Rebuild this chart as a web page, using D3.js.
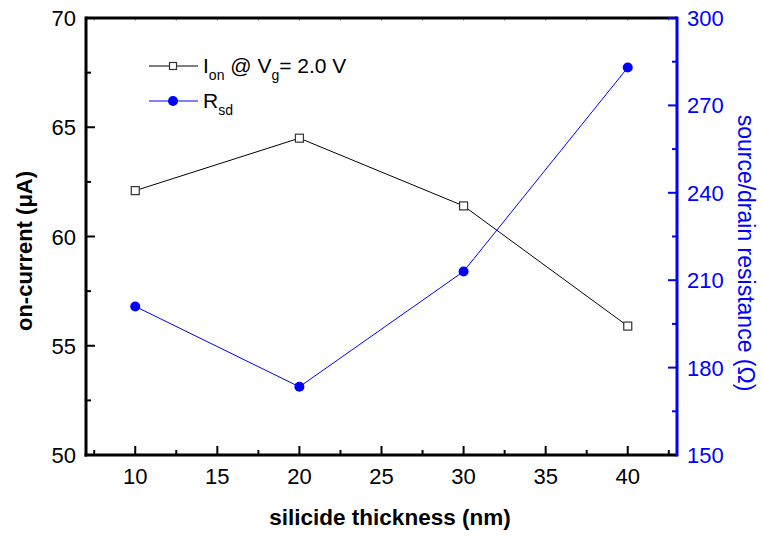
<!DOCTYPE html>
<html>
<head>
<meta charset="utf-8">
<script src="https://cdn.jsdelivr.net/npm/d3@7"></script>
<style>
  html, body { margin: 0; padding: 0; background: #fff; }
  svg text { font-family: "Liberation Sans", Arial, Helvetica, sans-serif; }
</style>
</head>
<body>
<svg id="chart" width="763" height="536"></svg>
<script>
// Silicide thickness (nm) and the two measured quantities
const thickness = [10, 20, 30, 40];
const onCurrent = [62.1, 64.5, 61.4, 55.9];      // µA, left axis
const resistance = [201, 173.4, 213, 283];       // Ω, right axis

const xTicks = [10, 15, 20, 25, 30, 35, 40];
const yLeftTicks = [50, 55, 60, 65, 70];
const yRightTicks = [150, 180, 210, 240, 270, 300];

const BLUE = "#0000ff";
const svg = d3.select("#chart");

const L = 86, R = 677, T = 18, B = 455;

const x = d3.scaleLinear().domain([7, 43]).range([L, R]);
const yL = d3.scaleLinear().domain([50, 70]).range([B, T]);
const yR = d3.scaleLinear().domain([150, 300]).range([B, T]);

const fs = 22;

// Frame: top edge
svg.append("line").attr("x1", L).attr("x2", R).attr("y1", T).attr("y2", T)
  .attr("stroke", "#000").attr("stroke-width", 3);

// Minor and major ticks, all pointing into the plot
const xMinor = d3.range(7.5, 43, 5);
const gTicks = svg.append("g");
gTicks.selectAll(".xmin").data(xMinor).join("line")
  .attr("x1", d => x(d)).attr("x2", d => x(d)).attr("y1", B).attr("y2", B - 5)
  .attr("stroke", "#000").attr("stroke-width", 2);
gTicks.selectAll(".xmaj").data(xTicks).join("line")
  .attr("x1", d => x(d)).attr("x2", d => x(d)).attr("y1", B).attr("y2", B - 9)
  .attr("stroke", "#000").attr("stroke-width", 2);
// faint ticks mirrored on the top edge
gTicks.selectAll(".xtop").data(xTicks.concat(xMinor)).join("line")
  .attr("x1", d => x(d)).attr("x2", d => x(d)).attr("y1", T).attr("y2", T + 2.5)
  .attr("stroke", "#000").attr("stroke-width", 1).attr("opacity", 0.5);

const yLMinor = d3.range(52.5, 70, 5);
gTicks.selectAll(".ylmin").data(yLMinor).join("line")
  .attr("x1", L).attr("x2", L + 5).attr("y1", d => yL(d)).attr("y2", d => yL(d))
  .attr("stroke", "#000").attr("stroke-width", 2);
gTicks.selectAll(".ylmaj").data(yLeftTicks).join("line")
  .attr("x1", L).attr("x2", L + 9).attr("y1", d => yL(d)).attr("y2", d => yL(d))
  .attr("stroke", "#000").attr("stroke-width", 2);

const yRMinor = d3.range(165, 300, 30);
gTicks.selectAll(".yrmin").data(yRMinor).join("line")
  .attr("x1", R).attr("x2", R - 5).attr("y1", d => yR(d)).attr("y2", d => yR(d))
  .attr("stroke", BLUE).attr("stroke-width", 2);
gTicks.selectAll(".yrmaj").data(yRightTicks).join("line")
  .attr("x1", R).attr("x2", R - 9).attr("y1", d => yR(d)).attr("y2", d => yR(d))
  .attr("stroke", BLUE).attr("stroke-width", 2);

// Axis lines
svg.append("line").attr("x1", L).attr("x2", L).attr("y1", T - 1.5).attr("y2", B + 1.5)
  .attr("stroke", "#000").attr("stroke-width", 3);
svg.append("line").attr("x1", L - 1.5).attr("x2", R).attr("y1", B).attr("y2", B)
  .attr("stroke", "#000").attr("stroke-width", 3);
svg.append("line").attr("x1", R).attr("x2", R).attr("y1", T - 1.5).attr("y2", B + 1.5)
  .attr("stroke", BLUE).attr("stroke-width", 3);

// Tick labels
svg.selectAll(".xl").data(xTicks).join("text")
  .attr("x", d => x(d)).attr("y", 484).attr("text-anchor", "middle")
  .attr("font-size", fs).attr("fill", "#000").text(d => d);
svg.selectAll(".yll").data(yLeftTicks).join("text")
  .attr("x", 76).attr("y", d => yL(d) + 8).attr("text-anchor", "end")
  .attr("font-size", fs).attr("fill", "#000").text(d => d);
svg.selectAll(".yrl").data(yRightTicks).join("text")
  .attr("x", 687).attr("y", d => yR(d) + 8).attr("text-anchor", "start")
  .attr("font-size", fs).attr("fill", BLUE).text(d => d);

// Axis titles
svg.append("text").attr("x", 390).attr("y", 525).attr("text-anchor", "middle")
  .attr("font-size", 22.5).attr("font-weight", "bold").text("silicide thickness (nm)");
svg.append("text").attr("transform", "translate(32,251) rotate(-90)")
  .attr("text-anchor", "middle").attr("font-size", 22).attr("font-weight", "bold")
  .text("on-current (\u03BCA)");
svg.append("text").attr("transform", "translate(738,253) rotate(90)")
  .attr("text-anchor", "middle").attr("font-size", 23).attr("fill", BLUE)
  .text("source/drain resistance (\u03A9)");

// Series
const ionData = thickness.map((t, i) => [t, onCurrent[i]]);
const rsdData = thickness.map((t, i) => [t, resistance[i]]);

svg.append("path").datum(ionData)
  .attr("d", d3.line().x(d => x(d[0])).y(d => yL(d[1])))
  .attr("fill", "none").attr("stroke", "#000").attr("stroke-width", 1);
svg.append("path").datum(rsdData)
  .attr("d", d3.line().x(d => x(d[0])).y(d => yR(d[1])))
  .attr("fill", "none").attr("stroke", BLUE).attr("stroke-width", 1);

const sq = 8;
svg.selectAll(".ion").data(ionData).join("rect")
  .attr("x", d => x(d[0]) - sq / 2).attr("y", d => yL(d[1]) - sq / 2)
  .attr("width", sq).attr("height", sq)
  .attr("fill", "#fff").attr("stroke", "#333").attr("stroke-width", 1.2);
svg.selectAll(".rsd").data(rsdData).join("circle")
  .attr("cx", d => x(d[0])).attr("cy", d => yR(d[1])).attr("r", 5)
  .attr("fill", BLUE);

// Legend
const lg = svg.append("g");
lg.append("line").attr("x1", 149).attr("x2", 198).attr("y1", 66).attr("y2", 66)
  .attr("stroke", "#000").attr("stroke-width", 1);
lg.append("rect").attr("x", 173 - 3.5).attr("y", 66 - 3.5).attr("width", 7).attr("height", 7)
  .attr("fill", "#fff").attr("stroke", "#333").attr("stroke-width", 1.2);
const t1 = lg.append("text").attr("x", 203).attr("y", 73).attr("font-size", 21);
t1.append("tspan").text("I");
t1.append("tspan").attr("font-size", 14).attr("dy", 7).text("on");
t1.append("tspan").attr("dy", -7).text(" @ V");
t1.append("tspan").attr("font-size", 14).attr("dy", 7).text("g");
t1.append("tspan").attr("dy", -7).text("= 2.0 V");

lg.append("line").attr("x1", 149).attr("x2", 198).attr("y1", 101).attr("y2", 101)
  .attr("stroke", BLUE).attr("stroke-width", 1);
lg.append("circle").attr("cx", 173).attr("cy", 101).attr("r", 5).attr("fill", BLUE);
const t2 = lg.append("text").attr("x", 203).attr("y", 108).attr("font-size", 21);
t2.append("tspan").text("R");
t2.append("tspan").attr("font-size", 14).attr("dy", 7).text("sd");
</script>
</body>
</html>
